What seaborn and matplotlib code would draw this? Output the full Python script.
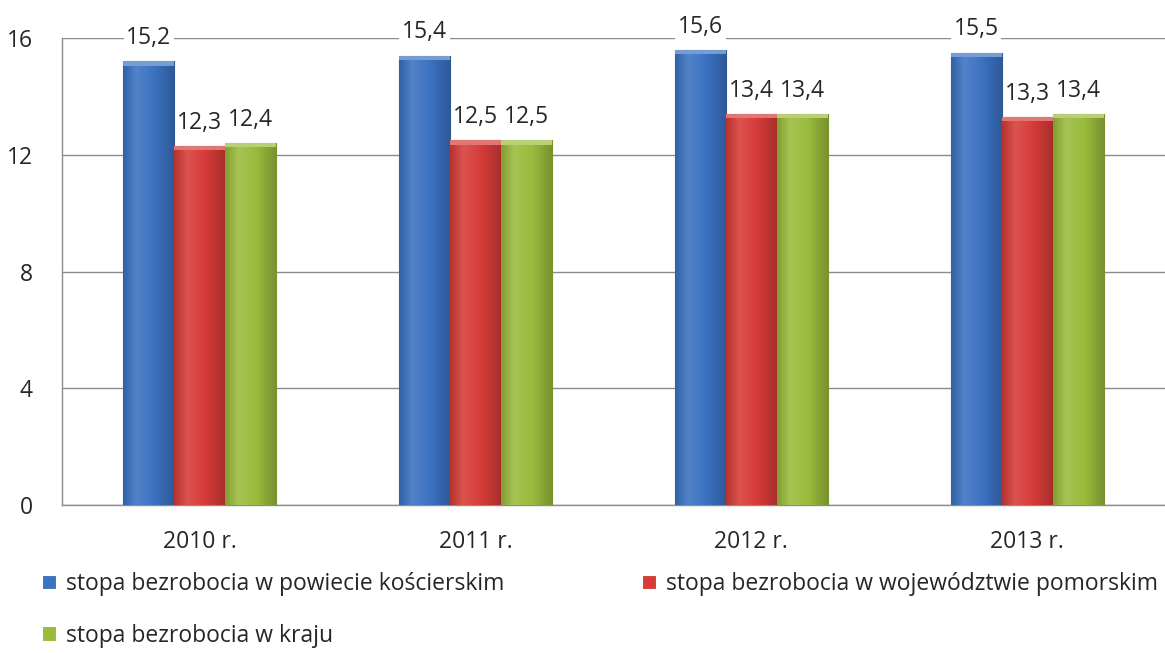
import matplotlib
matplotlib.use("Agg")
import matplotlib.pyplot as plt
import matplotlib.colors as mcolors
import seaborn as sns
import pandas as pd
import numpy as np

years = ["2010 r.", "2011 r.", "2012 r.", "2013 r."]
series_names = [
    "stopa bezrobocia w powiecie kościerskim",
    "stopa bezrobocia w województwie pomorskim",
    "stopa bezrobocia w kraju",
]
powiat = [15.2, 15.4, 15.6, 15.5]
wojewodztwo = [12.3, 12.5, 13.4, 13.3]
kraj = [12.4, 12.5, 13.4, 13.4]
yticks = [0, 4, 8, 12, 16]

colors = ["#3b72c2", "#d63c38", "#9abb3c"]
edges = ["#2a5490", "#9e2a27", "#6f8a2a"]

df = pd.DataFrame({
    "year": years * 3,
    "series": [series_names[0]] * 4 + [series_names[1]] * 4 + [series_names[2]] * 4,
    "value": powiat + wojewodztwo + kraj,
})

sns.set_style("white")
plt.rcParams["font.family"] = ["Open Sans", "DejaVu Sans"]
FS = 16.5

fig = plt.figure(figsize=(11.65, 6.53), dpi=100)
ax = fig.add_axes([0.0532, 0.2266, 0.9468, 0.7152])

sns.barplot(data=df, x="year", y="value", hue="series", palette=colors,
            width=0.555, ax=ax, legend=True, saturation=1)


def shade(c, f):
    r, g, b = mcolors.to_rgb(c)
    if f >= 0:
        return (r + (1 - r) * f, g + (1 - g) * f, b + (1 - b) * f)
    return (r * (1 + f), g * (1 + f), b * (1 + f))


for i, cont in enumerate(ax.containers):
    base = colors[i]
    cmap = mcolors.LinearSegmentedColormap.from_list(
        f"g{i}", [(0, shade(base, -0.15)), (0.25, shade(base, 0.12)),
                  (0.6, base), (1, shade(base, -0.22))])
    grad = np.linspace(0, 1, 64).reshape(1, -1)
    for p in cont:
        p.set_edgecolor(edges[i])
        p.set_linewidth(0.8)
        p.set_zorder(3)
        x0, w, h = p.get_x(), p.get_width(), p.get_height()
        im = ax.imshow(grad, cmap=cmap, aspect="auto", extent=(x0, x0 + w, 0, h),
                       zorder=3.5, interpolation="bicubic")
        im.set_clip_path(p)
        ax.fill_between([x0, x0 + w], [h - 0.15, h - 0.15], [h, h],
                        color=shade(base, 0.3), zorder=3.6, linewidth=0,
                        clip_path=p)
    ax.bar_label(cont, labels=[f"{v:.1f}".replace(".", ",") for v in cont.datavalues],
                 padding=8, fontsize=FS, zorder=2.5,
                 bbox=dict(facecolor="white", edgecolor="none", pad=2))

ax.set_ylim(0, 16)
ax.set_xlim(-0.5, 3.5)
ax.set_yticks(yticks)
ax.set_yticklabels([str(t) for t in yticks], fontsize=FS)
ax.yaxis.grid(True, color="#8c8c8c", linewidth=1)
ax.set_axisbelow(True)
ax.set_xlabel("")
ax.set_ylabel("")
ax.tick_params(axis="x", which="major", length=0, labelsize=FS, pad=18)
ax.set_xticks(np.arange(-0.5, 4.0, 1.0), minor=True)
ax.tick_params(axis="x", which="minor", length=7, color="#8c8c8c", width=1)
ax.tick_params(axis="y", which="major", length=7, color="#8c8c8c", width=1, pad=14)
for s in ["top", "right"]:
    ax.spines[s].set_visible(False)
for s in ["left", "bottom"]:
    ax.spines[s].set_color("#8c8c8c")
    ax.spines[s].set_linewidth(1)

handles, labels = ax.get_legend_handles_labels()
ax.get_legend().remove()
order = [0, 2, 1]
leg = fig.legend([handles[k] for k in order], [labels[k] for k in order],
                 ncol=2, loc="upper left", bbox_to_anchor=(0.036, 0.124),
                 frameon=False, fontsize=FS, handlelength=0.6, handleheight=0.6,
                 handletextpad=0.45, columnspacing=6.0, labelspacing=1.2,
                 borderaxespad=0, borderpad=0)
for h in leg.legend_handles:
    h.set_linewidth(0.8)

fig.savefig("out.png", dpi=100)
